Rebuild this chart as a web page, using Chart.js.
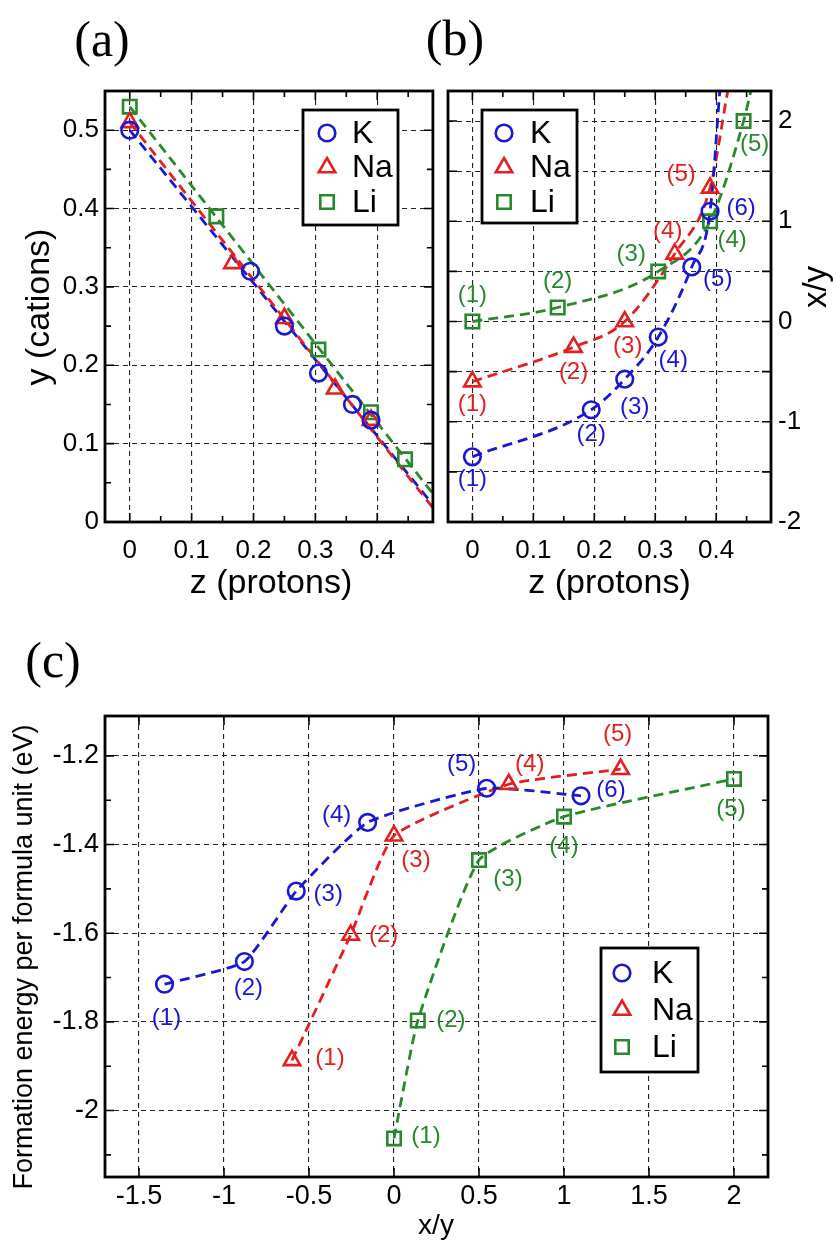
<!DOCTYPE html>
<html lang="en">
<head>
<meta charset="UTF-8">
<title>Cation and proton content, formation energy</title>
<script src="https://cdn.jsdelivr.net/npm/chart.js"></script>
<style>
  body { margin: 0; background: #fff; }
  #page { position: relative; width: 836px; height: 1240px; overflow: hidden; }
  #page canvas { position: absolute; }
</style>
</head>
<body>
<div id="page">
  <canvas id="chartA" width="445" height="620" style="left:0;top:0"></canvas>
  <canvas id="chartB" width="436" height="620" style="left:400px;top:0"></canvas>
  <canvas id="chartC" width="836" height="640" style="left:0;top:600px"></canvas>
</div>
<script>
// proton content z of each composition (shared by panels a and b)
const zK  = [0, 0.195, 0.25, 0.305, 0.36, 0.39];
const zNa = [0, 0.166, 0.25, 0.332, 0.39];
const zLi = [0, 0.14, 0.305, 0.39, 0.445];

// (a) cation content y
const yK  = [0.50, 0.32, 0.25, 0.19, 0.15, 0.13];
const yNa = [0.51, 0.33, 0.26, 0.17, 0.13];
const yLi = [0.53, 0.39, 0.22, 0.14, 0.08];

// (a) straight fits, value at z = 0 and at the right edge
const fitZ   = [0, 0.49];
const fitK   = [0.50, 0.022];
const fitNa  = [0.51, 0.018];
const fitLi  = [0.53, 0.036];

// x/y ratio (panel b y axis, panel c x axis)
const rK  = [-1.35, -0.88, -0.575, -0.155, 0.545, 1.10];
const rNa = [-0.60, -0.255, 0.0, 0.675, 1.333];
const rLi = [0.0, 0.14, 0.5, 1.0, 2.0];

// (b) where each fitted curve leaves the top of the frame
const tailZ = { K: 0.406, Na: 0.419, Li: 0.457 };
const tailR = 2.3;

// (c) formation energy per formula unit (eV)
const eK  = [-1.715, -1.664, -1.505, -1.35, -1.273, -1.29];
const eNa = [-1.887, -1.604, -1.38, -1.264, -1.23];
const eLi = [-2.063, -1.797, -1.435, -1.337, -1.252];

// axis ticks
const aTickX = [0, 0.1, 0.2, 0.3, 0.4];
const aTickY = [0, 0.1, 0.2, 0.3, 0.4, 0.5];
const aMinorX = [0.05, 0.15, 0.25, 0.35, 0.45];
const aMinorY = [0.05, 0.15, 0.25, 0.35, 0.45];
const bTickY = [-2, -1.5, -1, -0.5, 0, 0.5, 1, 1.5, 2];
const cTickX = [-1.5, -1, -0.5, 0, 0.5, 1, 1.5, 2];
const cTickY = [-2, -1.8, -1.6, -1.4, -1.2];
const cMinorY = [-2.1, -1.9, -1.7, -1.5, -1.3];

const BLUE = '#1717d4', RED = '#e41f1f', GREEN = '#27892b';
const SANS = '"Liberation Sans", Arial, Helvetica, sans-serif';
const SERIF = '"Liberation Serif", "Times New Roman", serif';

const pts = (xs, ys) => xs.map((v, i) => ({ x: v, y: ys[i] }));

function markers(label, data, color, style) {
  const radius = style === 'circle' ? 8.3 : 9.5;
  return {
    label, data, borderColor: color, backgroundColor: 'rgba(0,0,0,0)',
    pointStyle: style, pointRadius: radius, pointHoverRadius: radius,
    pointBorderWidth: 2.6, showLine: false
  };
}
function dashed(data, color, curve) {
  return {
    data, borderColor: color, borderWidth: 2.8, borderDash: [10, 6],
    pointRadius: 0, showLine: true, fill: false,
    cubicInterpolationMode: curve === 'monotone' ? 'monotone' : 'default',
    tension: typeof curve === 'number' ? curve : 0
  };
}

// same marker geometry as Chart.js uses for its point styles
function drawMarker(ctx, style, r, x, y) {
  ctx.beginPath();
  if (style === 'circle') {
    ctx.arc(x, y, r, 0, Math.PI * 2);
  } else if (style === 'triangle') {
    for (let k = 0; k < 3; k++) {
      const a = k * 2 * Math.PI / 3;
      const px = x + Math.sin(a) * r, py = y - Math.cos(a) * r;
      k ? ctx.lineTo(px, py) : ctx.moveTo(px, py);
    }
    ctx.closePath();
  } else {
    const h = r * Math.SQRT1_2;
    ctx.rect(x - h, y - h, 2 * h, 2 * h);
  }
  ctx.stroke();
}

// frame, inward tick marks, numbered labels, legend box and titles
const decor = {
  id: 'decor',
  beforeDatasetsDraw(chart, args, o) {
    const { ctx, chartArea: a, scales: { x, y } } = chart;
    ctx.save();
    ctx.strokeStyle = '#000';
    ctx.lineWidth = 1.6;
    ctx.beginPath();
    const mark = (s, v, len) => {
      const p = s.getPixelForValue(v);
      if (s.isHorizontal()) {
        ctx.moveTo(p, a.bottom); ctx.lineTo(p, a.bottom - len);
        ctx.moveTo(p, a.top); ctx.lineTo(p, a.top + len);
      } else {
        ctx.moveTo(a.left, p); ctx.lineTo(a.left + len, p);
        ctx.moveTo(a.right, p); ctx.lineTo(a.right - len, p);
      }
    };
    x.ticks.forEach(t => mark(x, t.value, 9));
    y.ticks.forEach(t => mark(y, t.value, 9));
    (o.minorX || []).forEach(v => mark(x, v, 6));
    (o.minorY || []).forEach(v => mark(y, v, 6));
    ctx.stroke();
    ctx.restore();
  },
  afterDatasetsDraw(chart, args, o) {
    const { ctx, chartArea: a } = chart;
    ctx.save();
    ctx.strokeStyle = '#000';
    ctx.lineWidth = 2.8;
    ctx.strokeRect(a.left, a.top, a.right - a.left, a.bottom - a.top);

    ctx.font = '24px ' + SANS;
    ctx.textAlign = 'center';
    ctx.textBaseline = 'middle';
    (o.numbers || []).forEach(n => {
      const meta = chart.getDatasetMeta(n.dataset);
      ctx.fillStyle = chart.data.datasets[n.dataset].borderColor;
      meta.data.forEach((el, i) => {
        const [dx, dy] = n.offsets[i];
        ctx.fillText('(' + (i + 1) + ')', el.x + dx, el.y + dy);
      });
    });

    const lg = o.legend;
    if (lg) {
      ctx.fillStyle = '#fff';
      ctx.fillRect(lg.x, lg.y, lg.w, lg.h);
      ctx.lineWidth = 2.8;
      ctx.strokeRect(lg.x, lg.y, lg.w, lg.h);
      ctx.font = '32px ' + SANS;
      ctx.textAlign = 'left';
      lg.datasets.forEach((di, k) => {
        const ds = chart.data.datasets[di];
        const cy = lg.y + lg.first + k * lg.step;
        ctx.strokeStyle = ds.borderColor;
        ctx.lineWidth = 2.6;
        drawMarker(ctx, ds.pointStyle, ds.pointRadius, lg.x + lg.markX, cy);
        ctx.fillStyle = '#000';
        ctx.fillText(ds.label, lg.x + lg.textX, cy + 1);
      });
    }
    ctx.restore();
  },
  afterDraw(chart, args, o) {
    const { ctx } = chart;
    ctx.save();
    ctx.fillStyle = '#000';
    ctx.textAlign = 'center';
    ctx.textBaseline = 'middle';
    (o.texts || []).forEach(t => {
      ctx.save();
      ctx.font = t.font;
      ctx.translate(t.x, t.y);
      if (t.rot) ctx.rotate(t.rot);
      ctx.fillText(t.text, 0, 0);
      ctx.restore();
    });
    ctx.restore();
  }
};

// linear axis with fixed tick values and a fixed thickness
function axis(min, max, tickValues, size, tickOpts, extra) {
  return Object.assign({
    type: 'linear', min, max,
    afterBuildTicks: s => { s.ticks = tickValues.map(v => ({ value: v })); },
    afterFit: s => { if (s.isHorizontal()) s.height = size; else s.width = size; },
    grid: { color: '#222', lineWidth: 1.1, drawTicks: false },
    border: { display: false, dash: [5, 4] },
    ticks: Object.assign({
      color: '#000', font: { family: SANS, size: 26 }, autoSkip: false,
      maxRotation: 0, callback: v => String(v)
    }, tickOpts)
  }, extra);
}

Chart.defaults.animation = false;
Chart.defaults.color = '#000';

const base = {
  responsive: false,
  events: [],
  plugins: { legend: { display: false }, tooltip: { enabled: false } }
};

// (a) cation content against proton content
new Chart(document.getElementById('chartA'), {
  type: 'scatter',
  plugins: [decor],
  data: {
    datasets: [
      markers('K', pts(zK, yK), BLUE, 'circle'),
      markers('Na', pts(zNa, yNa), RED, 'triangle'),
      markers('Li', pts(zLi, yLi), GREEN, 'rect'),
      dashed(pts(fitZ, fitNa), RED),
      dashed(pts(fitZ, fitK), BLUE),
      dashed(pts(fitZ, fitLi), GREEN)
    ]
  },
  options: Object.assign({}, base, {
    layout: { padding: { top: 91, right: 8, left: 0, bottom: 0 } },
    scales: {
      x: axis(-0.04, 0.49, aTickX, 98, { padding: 13 }),
      y: axis(0, 0.55, aTickY, 105, { padding: 6 })
    },
    plugins: Object.assign({}, base.plugins, {
      decor: {
        minorX: aMinorX, minorY: aMinorY,
        legend: { x: 303, y: 110, w: 95, h: 115, first: 23, step: 34.5, markX: 24, textX: 49, datasets: [0, 1, 2] },
        texts: [
          { text: '(a)', x: 102, y: 43, font: '50px ' + SERIF },
          { text: 'y (cations)', x: 40, y: 307, rot: -Math.PI / 2, font: '34px ' + SANS },
          { text: 'z (protons)', x: 271, y: 584, font: '34px ' + SANS }
        ]
      }
    })
  })
});

// (b) x/y ratio against proton content
new Chart(document.getElementById('chartB'), {
  type: 'scatter',
  plugins: [decor],
  data: {
    datasets: [
      markers('K', pts(zK, rK), BLUE, 'circle'),
      markers('Na', pts(zNa, rNa), RED, 'triangle'),
      markers('Li', pts(zLi, rLi), GREEN, 'rect'),
      dashed(pts([...zK, tailZ.K], [...rK, tailR]), BLUE, 'monotone'),
      dashed(pts([...zNa, tailZ.Na], [...rNa, tailR]), RED, 'monotone'),
      dashed(pts([...zLi, tailZ.Li], [...rLi, tailR]), GREEN, 'monotone')
    ]
  },
  options: Object.assign({}, base, {
    layout: { padding: { top: 91, right: 0, left: 48, bottom: 0 } },
    scales: {
      x: axis(-0.04, 0.49, aTickX, 98, { padding: 13 }),
      // right-hand axis, labels only on whole numbers
      y: axis(-2, 2.3, bTickY, 65,
        { padding: 7, callback: v => Number.isInteger(v) ? String(v) : '' },
        { position: 'right' })
    },
    plugins: Object.assign({}, base.plugins, {
      decor: {
        minorX: aMinorX,
        numbers: [
          { dataset: 0, offsets: [[0, 23], [0, 25], [10, 28], [15, 23], [26, 12], [31, -3]] },
          { dataset: 1, offsets: [[0, 23], [0, 25], [3, 25], [-7, -23], [-29, -14]] },
          { dataset: 2, offsets: [[0, -26], [0, -26], [-27, -17], [22, 19], [11, 23]] }
        ],
        legend: { x: 82, y: 110, w: 95, h: 113, first: 23, step: 34.5, markX: 22, textX: 48, datasets: [0, 1, 2] },
        texts: [
          { text: '(b)', x: 55, y: 42, font: '50px ' + SERIF },
          { text: 'x/y', x: 417, y: 287, rot: -Math.PI / 2, font: '33px ' + SANS },
          { text: 'z (protons)', x: 209.5, y: 584, font: '34px ' + SANS }
        ]
      }
    })
  })
});

// (c) formation energy against x/y
new Chart(document.getElementById('chartC'), {
  type: 'scatter',
  plugins: [decor],
  data: {
    datasets: [
      markers('K', pts(rK, eK), BLUE, 'circle'),
      markers('Na', pts(rNa, eNa), RED, 'triangle'),
      markers('Li', pts(rLi, eLi), GREEN, 'rect'),
      dashed(pts(rK, eK), BLUE, 0.15),
      dashed(pts(rNa, eNa), RED, 0.15),
      dashed(pts(rLi, eLi), GREEN, 0.15)
    ]
  },
  options: Object.assign({}, base, {
    layout: { padding: { top: 116, right: 68, left: 0, bottom: 0 } },
    scales: {
      x: axis(-1.7, 2.2, cTickX, 63, { padding: 3, font: { family: SANS, size: 27 } }),
      y: axis(-2.15, -1.11, cTickY, 105, { padding: 6, font: { family: SANS, size: 27 } })
    },
    plugins: Object.assign({}, base.plugins, {
      decor: {
        minorY: cMinorY,
        numbers: [
          { dataset: 0, offsets: [[2, 34], [4, 27], [32, 3], [-31, -7], [-25, -24], [30, -5]] },
          { dataset: 1, offsets: [[38, -2], [33, 0], [22, 25], [21, -20], [-3, -35]] },
          { dataset: 2, offsets: [[32, -2], [33, 0], [29, 19], [0, 30], [-3, 30]] }
        ],
        legend: { x: 601, y: 348, w: 97, h: 124, first: 25, step: 37, markX: 21, textX: 51, datasets: [0, 1, 2] },
        texts: [
          { text: '(c)', x: 53, y: 64, font: '50px ' + SERIF },
          { text: 'Formation energy per formula unit (eV)', x: 25, y: 357, rot: -Math.PI / 2, font: '27px ' + SANS },
          { text: 'x/y', x: 436, y: 626, font: '28px ' + SANS }
        ]
      }
    })
  })
});
</script>
</body>
</html>
